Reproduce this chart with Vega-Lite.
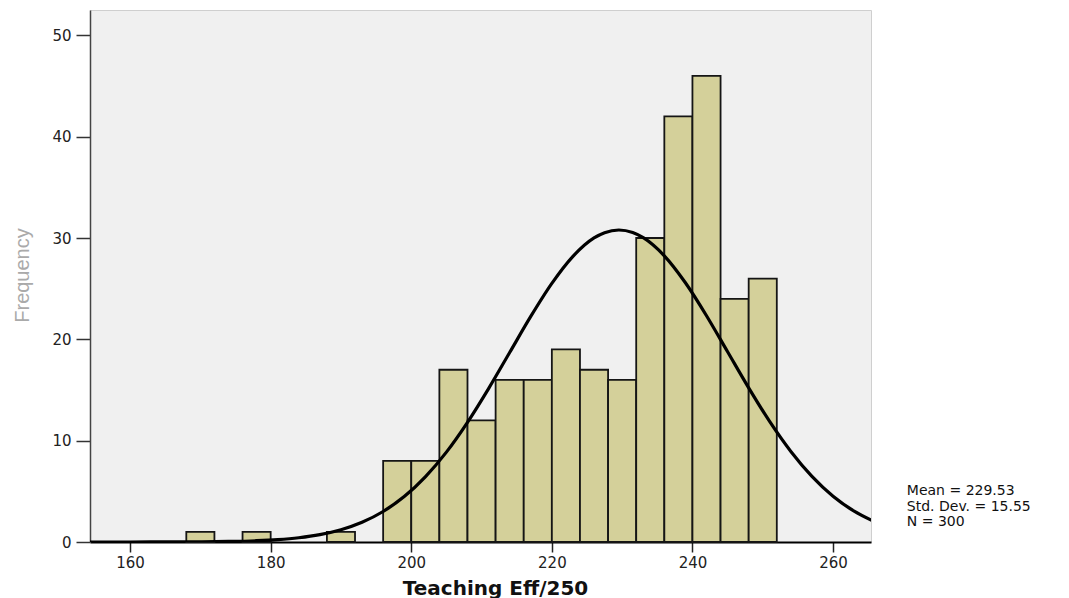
{
  "$schema": "https://vega.github.io/schema/vega-lite/v6.json",
  "width": 781,
  "height": 532,
  "autosize": "none",
  "padding": {"left": 90, "top": 10, "right": 198, "bottom": 56},
  "background": "white",
  "config": {
    "view": {"fill": "#f0f0f0", "stroke": "#cfcfcf", "strokeWidth": 1},
    "font": "DejaVu Sans",
    "axis": {"grid": false, "labelFont": "DejaVu Sans", "titleFont": "DejaVu Sans"}
  },
  "datasets": {
    "bins": [
      {"start": 168, "end": 172, "count": 1},
      {"start": 176, "end": 180, "count": 1},
      {"start": 188, "end": 192, "count": 1},
      {"start": 196, "end": 200, "count": 8},
      {"start": 200, "end": 204, "count": 8},
      {"start": 204, "end": 208, "count": 17},
      {"start": 208, "end": 212, "count": 12},
      {"start": 212, "end": 216, "count": 16},
      {"start": 216, "end": 220, "count": 16},
      {"start": 220, "end": 224, "count": 19},
      {"start": 224, "end": 228, "count": 17},
      {"start": 228, "end": 232, "count": 16},
      {"start": 232, "end": 236, "count": 30},
      {"start": 236, "end": 240, "count": 42},
      {"start": 240, "end": 244, "count": 46},
      {"start": 244, "end": 248, "count": 24},
      {"start": 248, "end": 252, "count": 26}
    ],
    "curve": [
      {"x": 154, "y": 0.0002},
      {"x": 160, "y": 0.0014},
      {"x": 166, "y": 0.0073},
      {"x": 170, "y": 0.02},
      {"x": 174, "y": 0.052},
      {"x": 178, "y": 0.127},
      {"x": 181, "y": 0.236},
      {"x": 184, "y": 0.423},
      {"x": 187, "y": 0.731},
      {"x": 190, "y": 1.216},
      {"x": 193, "y": 1.95},
      {"x": 196, "y": 3.01},
      {"x": 199, "y": 4.48},
      {"x": 202, "y": 6.43},
      {"x": 205, "y": 8.87},
      {"x": 208, "y": 11.81},
      {"x": 211, "y": 15.14},
      {"x": 214, "y": 18.7},
      {"x": 217, "y": 22.26},
      {"x": 220, "y": 25.52},
      {"x": 223, "y": 28.19},
      {"x": 226, "y": 30.01},
      {"x": 227.5, "y": 30.53},
      {"x": 229.53, "y": 30.79},
      {"x": 231.5, "y": 30.54},
      {"x": 233, "y": 30.03},
      {"x": 236, "y": 28.24},
      {"x": 239, "y": 25.58},
      {"x": 242, "y": 22.33},
      {"x": 245, "y": 18.77},
      {"x": 248, "y": 15.21},
      {"x": 251, "y": 11.87},
      {"x": 254, "y": 8.93},
      {"x": 257, "y": 6.47},
      {"x": 260, "y": 4.51},
      {"x": 263, "y": 3.04},
      {"x": 266, "y": 1.97}
    ]
  },
  "layer": [
    {
      "data": {"name": "bins"},
      "mark": {"type": "rect", "fill": "#d4d09a", "stroke": "#151515", "strokeWidth": 1.8},
      "encoding": {
        "x": {
          "field": "start", "type": "quantitative",
          "scale": {"domain": [154.3, 265.4], "nice": false, "zero": false},
          "axis": {
            "values": [160, 180, 200, 220, 240, 260],
            "domainColor": "#000000", "domainWidth": 2,
            "tickColor": "#222222", "tickWidth": 1.5, "tickSize": 10,
            "labelFontSize": 15, "labelColor": "#222222", "labelPadding": 3,
            "title": "Teaching Eff/250", "titleFontSize": 20, "titleFontWeight": "bold",
            "titleColor": "#111111", "titleX": 405, "titleAlign": "center", "titlePadding": 8
          }
        },
        "x2": {"field": "end"},
        "y": {
          "field": "count", "type": "quantitative",
          "scale": {"domain": [0, 52.5], "nice": false},
          "axis": {
            "values": [0, 10, 20, 30, 40, 50],
            "domainColor": "#444444", "domainWidth": 1.5,
            "tickColor": "#333333", "tickWidth": 1.5, "tickSize": 14,
            "labelFontSize": 15, "labelColor": "#222222", "labelPadding": 5,
            "title": "Frequency", "titleFont": "Liberation Sans", "titleFontSize": 20, "titleFontWeight": "normal",
            "titleColor": "#aaaaaa", "titleX": -68, "titleY": 265,
            "titleAlign": "center", "titleBaseline": "middle", "titleAngle": -90
          }
        },
        "y2": {"datum": 0}
      }
    },
    {
      "data": {"name": "curve"},
      "mark": {"type": "line", "color": "#000000", "strokeWidth": 3.2, "interpolate": "monotone", "clip": true},
      "encoding": {
        "x": {"field": "x", "type": "quantitative"},
        "y": {"field": "y", "type": "quantitative"}
      }
    },
    {
      "data": {"values": [{"stat": "summary"}]},
      "mark": {
        "type": "text", "align": "left", "baseline": "middle",
        "fontSize": 14, "lineHeight": 15.5, "color": "#111111",
        "text": ["Mean = 229.53", "Std. Dev. = 15.55", "N = 300"]
      },
      "encoding": {
        "x": {"datum": 270.5},
        "y": {"datum": 5.0}
      }
    }
  ]
}
